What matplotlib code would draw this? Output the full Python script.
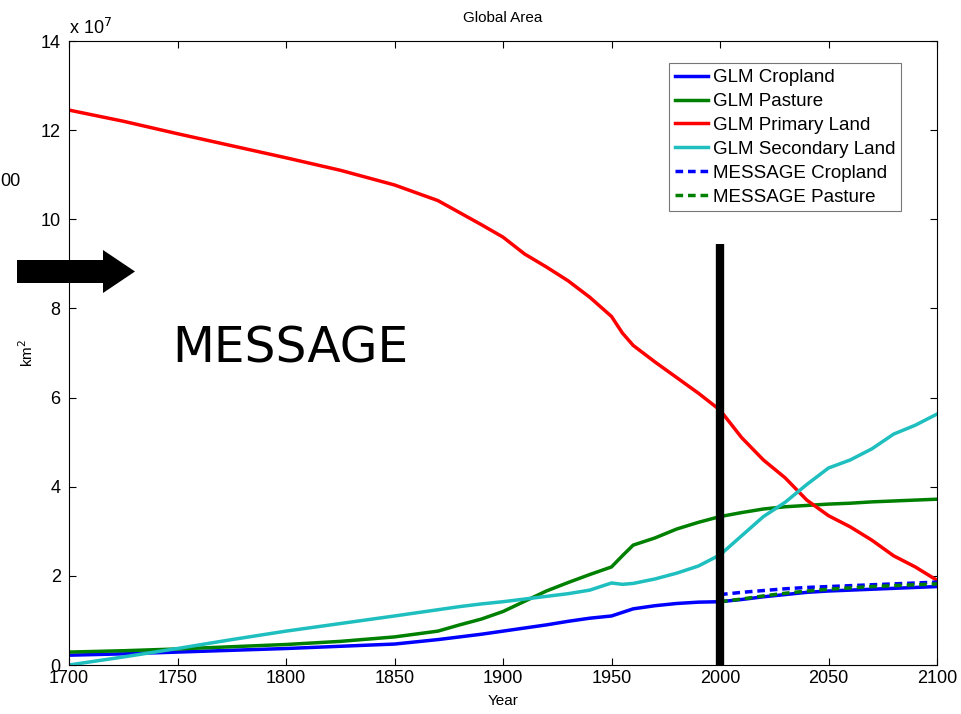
import matplotlib.pyplot as plt
from matplotlib.patches import Polygon

# areas in units of 1e7 km^2
yr_hist = [1700, 1725, 1750, 1775, 1800, 1825, 1850, 1870, 1880, 1890, 1900, 1910, 1920,
           1930, 1940, 1950, 1955, 1960, 1970, 1980, 1990, 2000, 2010, 2020, 2030, 2040,
           2050, 2060, 2070, 2080, 2090, 2100]
glm_crop = [0.22, 0.25, 0.29, 0.33, 0.37, 0.42, 0.47, 0.57, 0.63, 0.69, 0.76, 0.83, 0.90,
            0.98, 1.05, 1.10, 1.18, 1.26, 1.33, 1.38, 1.41, 1.42, 1.47, 1.53, 1.58, 1.63,
            1.66, 1.68, 1.70, 1.72, 1.74, 1.76]
glm_past = [0.29, 0.32, 0.36, 0.41, 0.46, 0.53, 0.63, 0.76, 0.90, 1.03, 1.20, 1.43, 1.66,
            1.85, 2.03, 2.20, 2.45, 2.69, 2.85, 3.05, 3.20, 3.33, 3.42, 3.50, 3.55, 3.58,
            3.61, 3.63, 3.66, 3.68, 3.70, 3.72]
glm_prim = [12.45, 12.20, 11.92, 11.65, 11.38, 11.10, 10.77, 10.42, 10.15, 9.88, 9.60, 9.22,
            8.93, 8.62, 8.25, 7.82, 7.45, 7.17, 6.80, 6.45, 6.10, 5.72, 5.10, 4.60, 4.20,
            3.70, 3.35, 3.10, 2.80, 2.45, 2.20, 1.90]
glm_sec = [0.00, 0.18, 0.37, 0.57, 0.76, 0.93, 1.10, 1.24, 1.31, 1.37, 1.42, 1.48, 1.54,
           1.60, 1.68, 1.84, 1.81, 1.83, 1.93, 2.06, 2.22, 2.47, 2.90, 3.33, 3.65, 4.05,
           4.42, 4.60, 4.85, 5.18, 5.38, 5.63]

yr_msg = [2000, 2010, 2020, 2030, 2040, 2050, 2060, 2070, 2080, 2090, 2100]
msg_crop = [1.58, 1.63, 1.67, 1.71, 1.74, 1.76, 1.78, 1.80, 1.82, 1.84, 1.86]
msg_past = [1.42, 1.48, 1.55, 1.61, 1.66, 1.70, 1.73, 1.76, 1.78, 1.80, 1.82]

# base year marker
bar_x = [2000, 2000]
bar_y = [0, 9.44]

plt.rcParams['font.family'] = ['Liberation Sans', 'DejaVu Sans']

fig = plt.figure(figsize=(9.61, 7.14), dpi=100)
ax = fig.add_axes([69/961, 49/714, 868/961, 624/714])

lw = 2.5
ax.plot(yr_hist, glm_crop, color='#0000ff', lw=lw, label='GLM Cropland')
ax.plot(yr_hist, glm_past, color='#008000', lw=lw, label='GLM Pasture')
ax.plot(yr_hist, glm_prim, color='#ff0000', lw=lw, label='GLM Primary Land')
ax.plot(yr_hist, glm_sec, color='#1fbfbf', lw=lw, label='GLM Secondary Land')
ax.plot(yr_msg, msg_crop, color='#0000ff', lw=lw, ls=(0, (2.2, 1.4)), label='MESSAGE Cropland')
ax.plot(yr_msg, msg_past, color='#008000', lw=lw, ls=(0, (2.2, 1.4)), label='MESSAGE Pasture')
ax.plot(bar_x, bar_y, color='black', lw=6, solid_capstyle='butt', clip_on=False, zorder=5)

ax.set_xlim(1700, 2100)
ax.set_ylim(0, 14)
ax.set_xticks(range(1700, 2101, 50))
ax.set_yticks(range(0, 15, 2))
ax.tick_params(direction='in', top=True, right=True, labelsize=13, length=5, width=0.8)
ax.tick_params(axis='y', pad=6)
for s in ax.spines.values():
    s.set_linewidth(0.8)

ax.set_title('Global Area', fontsize=11, pad=14)
ax.set_xlabel('Year', fontsize=11, labelpad=5)
ax.set_ylabel('km$^2$', fontsize=11, labelpad=3)
ax.text(0.0, 1.005, 'x 10$^7$', transform=ax.transAxes, fontsize=13, ha='left', va='bottom')

leg = ax.legend(loc='upper right', bbox_to_anchor=(0.9585, 0.964), fontsize=13.5,
                frameon=True, fancybox=False, edgecolor='#555555', handlelength=1.75,
                handletextpad=0.27, labelspacing=0.36, borderpad=0.3, borderaxespad=0)
leg.get_frame().set_linewidth(0.8)

ax.text(1802, 7.1, 'MESSAGE', fontsize=35, ha='center', va='center', family='DejaVu Sans')

# arrow pointing at the axis, left of the plot
W, H = 961, 714
arrow_px = [(17, 260), (103, 260), (103, 250), (135, 271.5), (103, 293), (103, 283), (17, 283)]
fig.patches.append(Polygon([(x / W, 1 - y / H) for x, y in arrow_px], closed=True,
                           facecolor='black', edgecolor='none', transform=fig.transFigure))
fig.text(0, 1 - 182 / H, '00', fontsize=13, ha='left', va='center')

fig.savefig('out.png', dpi=100)
